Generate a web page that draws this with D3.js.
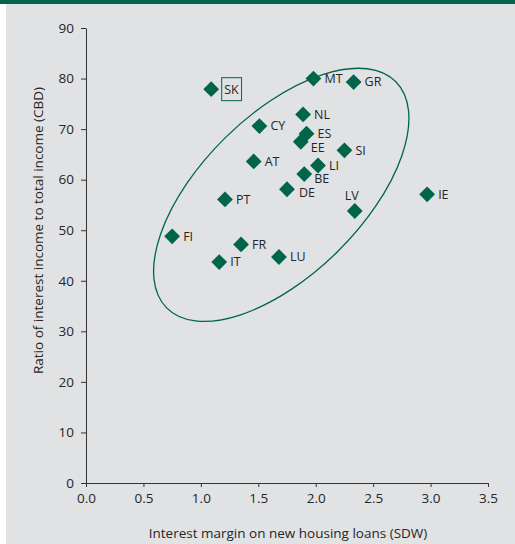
<!DOCTYPE html>
<html>
<head>
<meta charset="utf-8">
<script src="https://cdn.jsdelivr.net/npm/d3@7"></script>
<style>
  body { margin: 0; background: #fff; }
  svg text { font-family: "Open Sans", "Noto Sans", sans-serif; fill: #262626; }
  .axis path, .axis line { stroke: #333; }
</style>
</head>
<body>
<div id="chart"></div>
<script>
// country codes and values
let countries = ["SK", "MT", "GR", "NL", "CY", "ES", "EE", "SI", "AT", "LI",
                 "BE", "DE", "PT", "LV", "IE", "FI", "FR", "IT", "LU"];
let margins = [1.09, 1.98, 2.33, 1.89, 1.51, 1.92, 1.87, 2.25, 1.46, 2.02,
               1.90, 1.75, 1.21, 2.34, 2.97, 0.75, 1.35, 1.16, 1.68];
let ratios = [77.9, 80.0, 79.3, 72.9, 70.6, 69.1, 67.5, 65.8, 63.6, 62.8,
              61.1, 58.1, 56.1, 53.8, 57.1, 48.8, 47.2, 43.7, 44.7];

let xTicks = [0, 0.5, 1, 1.5, 2, 2.5, 3, 3.5];
let yTicks = [0, 10, 20, 30, 40, 50, 60, 70, 80, 90];

// cluster ellipse centre (data units)
let clusterCentre = [1.70, 57.0];

let width = 515, height = 544;
let margin = {top: 28, right: 27, bottom: 61, left: 86};
let w = width - margin.left - margin.right;
let h = height - margin.top - margin.bottom;

let green = "#00654a";

let svg = d3.select("#chart").append("svg")
    .attr("width", width)
    .attr("height", height);

// panel background + header strip
svg.append("rect")
    .attr("x", 6).attr("y", 0)
    .attr("width", width - 6).attr("height", height)
    .attr("fill", "#e1e2e4");
svg.append("rect")
    .attr("x", 0).attr("y", 0)
    .attr("width", width).attr("height", 4)
    .attr("fill", green);

let g = svg.append("g")
    .attr("transform", "translate(" + margin.left + "," + margin.top + ")");

// scales
let x = d3.scaleLinear().domain([0, 3.5]).range([0, w]);
let y = d3.scaleLinear().domain([0, 90]).range([h, 0]);

// axes
g.append("g")
    .attr("class", "axis axis--y")
    .call(d3.axisLeft(y).tickValues(yTicks).tickSize(5).tickSizeOuter(0).tickPadding(7))
    .selectAll("text").style("font-size", "13.5px");

g.append("g")
    .attr("class", "axis axis--x")
    .attr("transform", "translate(0," + h + ")")
    .call(d3.axisBottom(x).tickValues(xTicks).tickSize(4).tickSizeOuter(0).tickPadding(6)
        .tickFormat(d3.format(".1f")))
    .selectAll("text").style("font-size", "13.5px");

g.selectAll(".axis text").attr("fill", "#262626");

// axis labels
g.append("text")
    .attr("transform", "translate(" + (w / 2 + 1) + "," + (h + 55) + ")")
    .style("text-anchor", "middle")
    .style("font-size", "13.5px")
    .text("Interest margin on new housing loans (SDW)");

g.append("text")
    .attr("transform", "translate(" + (38 - margin.left) + "," + (h / 2 - 25) + ") rotate(-90)")
    .attr("dy", "0.35em")
    .style("text-anchor", "middle")
    .style("font-size", "13.5px")
    .text("Ratio of interest income to total income (CBD)");

// ellipse round the main cluster
g.append("ellipse")
    .attr("cx", 0).attr("cy", 0)
    .attr("rx", 161).attr("ry", 80)
    .attr("transform", "translate(" + x(clusterCentre[0]) + "," + y(clusterCentre[1]) + ") rotate(-44.6)")
    .attr("fill", "none")
    .attr("stroke", green)
    .attr("stroke-width", 1.3);

// label offsets (px) where the default right-hand label would collide
let labelOffset = {EE: [10, 6], BE: [10, 5], LV: [-10, -15], DE: [12, 3], SK: [13, 0]};

let points = countries.map((c, i) => ({code: c, x: margins[i], y: ratios[i]}));

let diamond = d3.symbol().type(d3.symbolSquare).size(125);

let nodes = g.selectAll(".pt")
    .data(points)
    .enter().append("g")
    .attr("class", "pt")
    .attr("transform", d => "translate(" + x(d.x) + "," + y(d.y) + ")");

nodes.append("path")
    .attr("d", diamond)
    .attr("transform", "rotate(45)")
    .attr("fill", green);

nodes.append("text")
    .attr("x", d => (labelOffset[d.code] || [11, 0])[0])
    .attr("y", d => (labelOffset[d.code] || [11, 0])[1])
    .attr("dy", "0.35em")
    .style("font-size", "12.5px")
    .text(d => d.code);

// box around SK label
nodes.filter(d => d.code === "SK").each(function() {
    let t = d3.select(this).select("text");
    let bb = t.node().getBBox();
    d3.select(this).insert("rect", "text")
        .attr("x", bb.x - 2.5).attr("y", -11.5)
        .attr("width", bb.width + 5).attr("height", 23)
        .attr("fill", "none")
        .attr("stroke", green)
        .attr("stroke-width", 1);
});
</script>
</body>
</html>
